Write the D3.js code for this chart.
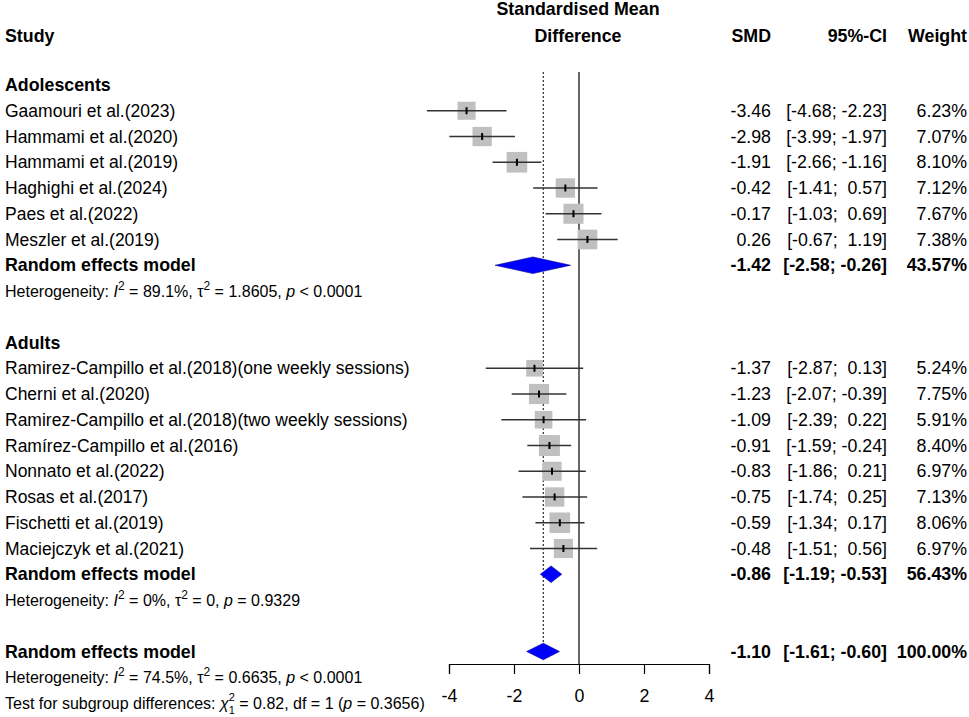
<!DOCTYPE html>
<html><head><meta charset="utf-8">
<script src="https://cdn.jsdelivr.net/npm/d3@7"></script>
<style>
body{margin:0;background:#fff;}
svg text{font-family:"Liberation Sans",Arial,sans-serif;fill:#000;white-space:pre;}
</style></head>
<body><svg id="chart" width="969" height="717"></svg>
<script>
// ---- data ----
const adolStudies = ["Gaamouri et al.(2023)","Hammami et al.(2020)","Hammami et al.(2019)","Haghighi et al.(2024)","Paes et al.(2022)","Meszler et al.(2019)"];
const adolSMD   = [-3.46,-2.98,-1.91,-0.42,-0.17,0.26];
const adolLower = [-4.68,-3.99,-2.66,-1.41,-1.03,-0.67];
const adolUpper = [-2.23,-1.97,-1.16,0.57,0.69,1.19];
const adolWeight= [6.23,7.07,8.10,7.12,7.67,7.38];

const adultStudies = ["Ramirez-Campillo et al.(2018)(one weekly sessions)","Cherni et al.(2020)","Ramirez-Campillo et al.(2018)(two weekly sessions)","Ramírez-Campillo et al.(2016)","Nonnato et al.(2022)","Rosas et al.(2017)","Fischetti et al.(2019)","Maciejczyk et al.(2021)"];
const adultSMD   = [-1.37,-1.23,-1.09,-0.91,-0.83,-0.75,-0.59,-0.48];
const adultLower = [-2.87,-2.07,-2.39,-1.59,-1.86,-1.74,-1.34,-1.51];
const adultUpper = [0.13,-0.39,0.22,-0.24,0.21,0.25,0.17,0.56];
const adultWeight= [5.24,7.75,5.91,8.40,6.97,7.13,8.06,6.97];

const pooledNames = ["Adolescents","Adults","Overall"];
const pooledSMD   = [-1.42,-0.86,-1.10];
const pooledLower = [-2.58,-1.19,-1.61];
const pooledUpper = [-0.26,-0.53,-0.60];
const pooledWeight= ["43.57%","56.43%","100.00%"];
const hetI2   = ["89.1%","0%","74.5%"];
const hetTau2 = ["1.8605","0","0.6635"];
const hetP    = ["< 0.0001","= 0.9329","< 0.0001"];
const subgroupTest = {chi2:"0.82", df:"1", p:"0.3656"};
const xTicks = [-4,-2,0,2,4];

// ---- layout ----
const svg = d3.select("#chart");
const FS = 17.8, FSL = 17.5, FSs = 16;
const rowY = i => 85 + 25.75*i;
const x = d3.scaleLinear().domain([-4,4]).range([449,709]);
const colSMD = 771, colCI = 887, colW = 967;
const loc = d3.formatLocale({decimal:".",thousands:",",grouping:[3],currency:["",""],minus:"-"});
const fmt = loc.format(".2f");
const ci = (l,u) => "[" + (l<0?fmt(l):" "+fmt(l)) + "; " + (u<0?fmt(u):" "+fmt(u)) + "]";
const axisY = 664, plotTop = 72;

// headers
svg.append("text").attr("x",578).attr("y",9).attr("dy","0.35em").attr("text-anchor","middle").attr("font-weight","bold").attr("font-size",FS).text("Standardised Mean");
svg.append("text").attr("x",578).attr("y",36).attr("dy","0.35em").attr("text-anchor","middle").attr("font-weight","bold").attr("font-size",FS).text("Difference");
svg.append("text").attr("x",5).attr("y",36).attr("dy","0.35em").attr("font-weight","bold").attr("font-size",FS).text("Study");
[["SMD",colSMD],["95%-CI",colCI],["Weight",colW]].forEach(([t,cx])=>{
  svg.append("text").attr("x",cx).attr("y",36).attr("dy","0.35em").attr("text-anchor","end").attr("font-weight","bold").attr("font-size",FS).text(t);
});

// reference lines
svg.append("line").attr("x1",x(0)).attr("x2",x(0)).attr("y1",plotTop).attr("y2",axisY).attr("stroke","#000").attr("stroke-width",1.2);
svg.append("line").attr("x1",x(pooledSMD[2])).attr("x2",x(pooledSMD[2])).attr("y1",plotTop).attr("y2",rowY(22)).attr("stroke","#000").attr("stroke-width",1).attr("stroke-dasharray","2,2");

// rows
function textRow(i,label,smd,l,u,w,bold){
  const g = svg.append("g").attr("font-size",FS).attr("font-weight",bold?"bold":"normal");
  g.append("text").attr("x",5).attr("y",rowY(i)).attr("dy","0.35em").attr("font-size",bold?FS:FSL).text(label);
  if(smd!==null){
    g.append("text").attr("x",colSMD).attr("y",rowY(i)).attr("dy","0.35em").attr("text-anchor","end").text(fmt(smd));
    g.append("text").attr("x",colCI).attr("y",rowY(i)).attr("dy","0.35em").attr("text-anchor","end").text(ci(l,u));
    g.append("text").attr("x",colW).attr("y",rowY(i)).attr("dy","0.35em").attr("text-anchor","end").text(w);
  }
}
function studyRow(i,label,smd,l,u,w){
  textRow(i,label,smd,l,u,fmt(w)+"%",false);
  const y = rowY(i), s = 7.25*Math.sqrt(w);
  svg.append("rect").attr("x",x(smd)-s/2).attr("y",y-s/2).attr("width",s).attr("height",s).attr("fill","#c0c0c0");
  svg.append("line").attr("x1",x(l)).attr("x2",x(u)).attr("y1",y).attr("y2",y).attr("stroke","#333").attr("stroke-width",1.6);
  svg.append("line").attr("x1",x(smd)).attr("x2",x(smd)).attr("y1",y-3.5).attr("y2",y+3.5).attr("stroke","#000").attr("stroke-width",2);
}
function diamondRow(i,k){
  textRow(i,"Random effects model",pooledSMD[k],pooledLower[k],pooledUpper[k],pooledWeight[k],true);
  const y = rowY(i), h = 8.3;
  const pts = [[x(pooledLower[k]),y],[x(pooledSMD[k]),y-h],[x(pooledUpper[k]),y],[x(pooledSMD[k]),y+h]];
  svg.append("path").attr("d",d3.line()(pts)+"Z").attr("fill","#0000ff").attr("stroke","#00008b").attr("stroke-width",0.6);
}
function hetRow(i,k){
  const t = svg.append("text").attr("x",5).attr("y",rowY(i)).attr("dy","0.35em").attr("font-size",FSs);
  t.append("tspan").text("Heterogeneity: ");
  t.append("tspan").attr("font-style","italic").text("I");
  t.append("tspan").attr("dy",-7).attr("font-size",12).text("2");
  t.append("tspan").attr("dy",7).text(" = "+hetI2[k]+", τ");
  t.append("tspan").attr("dy",-7).attr("font-size",12).text("2");
  t.append("tspan").attr("dy",7).text(" = "+hetTau2[k]+", ");
  t.append("tspan").attr("font-style","italic").text("p");
  t.append("tspan").text(" "+hetP[k]);
}

svg.append("text").attr("x",5).attr("y",rowY(0)).attr("dy","0.35em").attr("font-weight","bold").attr("font-size",FS).text("Adolescents");
adolStudies.forEach((s,j)=>studyRow(1+j,s,adolSMD[j],adolLower[j],adolUpper[j],adolWeight[j]));
diamondRow(7,0); hetRow(8,0);

svg.append("text").attr("x",5).attr("y",rowY(10)).attr("dy","0.35em").attr("font-weight","bold").attr("font-size",FS).text("Adults");
adultStudies.forEach((s,j)=>studyRow(11+j,s,adultSMD[j],adultLower[j],adultUpper[j],adultWeight[j]));
diamondRow(19,1); hetRow(20,1);

diamondRow(22,2); hetRow(23,2);
{
  const t = svg.append("text").attr("x",5).attr("y",rowY(24)).attr("dy","0.35em").attr("font-size",FSs);
  t.append("tspan").text("Test for subgroup differences: ");
  t.append("tspan").attr("font-style","italic").text("χ");
  t.append("tspan").attr("dy",-8).attr("font-size",11).text("2");
  t.append("tspan").attr("dx",-6.1).attr("dy",13).attr("font-size",11).text("1");
  t.append("tspan").attr("dy",-5).text(" = "+subgroupTest.chi2+", df = "+subgroupTest.df+" (");
  t.append("tspan").attr("font-style","italic").text("p");
  t.append("tspan").text(" = "+subgroupTest.p+")");
}

// axis
const ax = svg.append("g").attr("transform",`translate(0,${axisY})`)
  .call(d3.axisBottom(x).tickValues(xTicks).tickSize(10).tickPadding(15).tickFormat(loc.format("d")));
ax.select(".domain").attr("stroke","#000").attr("stroke-width",1.2);
ax.selectAll(".tick line").attr("stroke","#000").attr("stroke-width",1.2);
ax.selectAll(".tick text").attr("font-size",FS).attr("font-family","Liberation Sans, Arial, sans-serif").attr("fill","#000");
</script></body></html>
